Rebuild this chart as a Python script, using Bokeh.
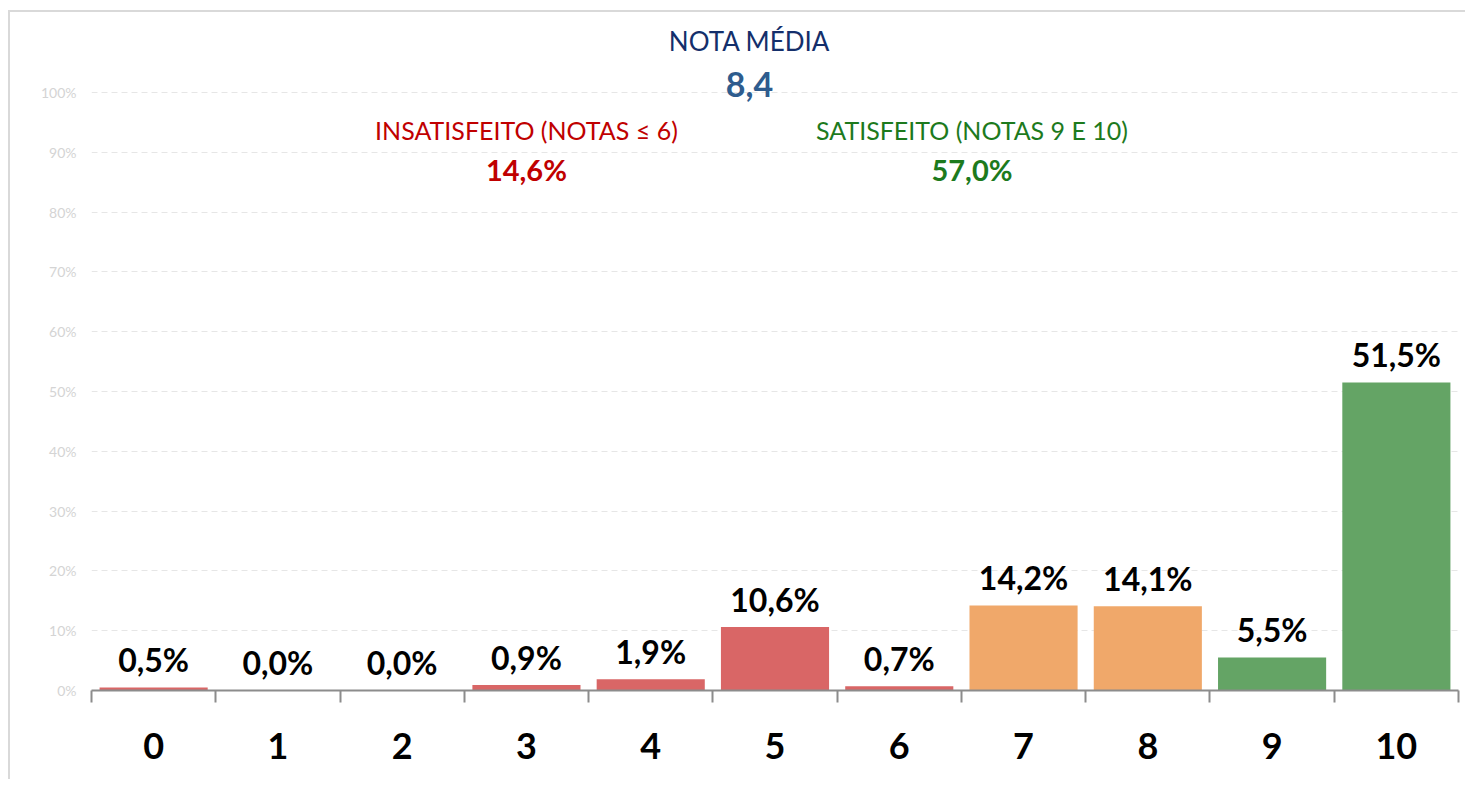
from bokeh.plotting import figure
from bokeh.models import (ColumnDataSource, Range1d, FixedTicker, NumeralTickFormatter, Label)
from bokeh.core.properties import value
from bokeh.embed import file_html
from bokeh.resources import INLINE

# ---- data ----
notas = [0, 1, 2, 3, 4, 5, 6, 7, 8, 9, 10]
percentuais = [0.005, 0.000, 0.000, 0.009, 0.019, 0.106, 0.007, 0.142, 0.141, 0.055, 0.515]
grupo = ["insat"] * 7 + ["neutro"] * 2 + ["sat"] * 2
nota_media = "8,4"
insatisfeito = "14,6%"
satisfeito = "57,0%"

cores_grupo = {"insat": "#D96666", "neutro": "#F0A86A", "sat": "#64A465"}

rotulos = [("%.1f%%" % (v * 100)).replace(".", ",") for v in percentuais]
src = ColumnDataSource(dict(x=notas, top=percentuais, lab=rotulos,
                            color=[cores_grupo[g] for g in grupo]))

FONT = "Lato"

p = figure(width=1457, height=769, output_backend="svg", toolbar_location=None,
           x_range=Range1d(-0.5, 10.5), y_range=Range1d(0, 1.1204),
           min_border_left=81, min_border_right=9, min_border_top=8, min_border_bottom=91,
           background_fill_color="white", border_fill_color="white")
p.outline_line_color = None
p.styles = {"border-left": "2px solid #d9d9d9", "border-top": "2px solid #d9d9d9",
            "margin-left": "8px", "margin-top": "10px"}

p.vbar(x="x", top="top", width=0.87, color="color", source=src, line_color=None)
p.text(x="x", y="top", text="lab", source=src, text_align="center",
       text_baseline="alphabetic", y_offset=-28, text_font=value(FONT),
       text_font_style="bold", text_font_size="32px", text_color="black")

# x axis
xa = p.xaxis[0]
xa.ticker = FixedTicker(ticks=notas, minor_ticks=[n - 0.5 for n in notas] + [10.5])
xa.major_tick_line_color = None
xa.major_tick_out = 0
xa.major_tick_in = 0
xa.minor_tick_out = 12
xa.minor_tick_in = 0
xa.minor_tick_line_color = "#8c8c8c"
xa.minor_tick_line_width = 2
xa.axis_line_color = "#8c8c8c"
xa.axis_line_width = 2
xa.major_label_text_font = FONT
xa.major_label_text_font_style = "bold"
xa.major_label_text_font_size = "36px"
xa.major_label_text_color = "black"
xa.major_label_standoff = 30

# y axis
ya = p.yaxis[0]
ya.ticker = FixedTicker(ticks=[i / 10 for i in range(11)])
ya.formatter = NumeralTickFormatter(format="0%")
ya.axis_line_color = None
ya.major_tick_line_color = None
ya.major_tick_out = 0
ya.major_tick_in = 0
ya.minor_tick_line_color = None
ya.major_label_text_font = FONT
ya.major_label_text_font_size = "14px"
ya.major_label_text_color = "#d4d4d4"
ya.major_label_standoff = 15

p.xgrid.grid_line_color = None
p.ygrid.grid_line_color = "#e6e6e6"
p.ygrid.grid_line_dash = "6 4"
p.ygrid.grid_line_width = 1

def lab(x, y, t, color, size, bold=False):
    p.add_layout(Label(x=x, y=y, text=t, text_align="center", text_baseline="middle",
                       text_font=FONT, text_font_size=size, text_color=color,
                       text_font_style="bold" if bold else "normal"))

lab(4.795, 1.0866, "NOTA MÉDIA", "#142F6B", "26px")
lab(4.795, 1.0134, nota_media, "#2E5C8E", "34px", True)
lab(3.0, 0.9378, "INSATISFEITO (NOTAS ≤ 6)", "#C00000", "25px")
lab(3.0, 0.8712, insatisfeito, "#C00000", "29px", True)
lab(6.585, 0.9378, "SATISFEITO (NOTAS 9 E 10)", "#1D7A1D", "25px")
lab(6.585, 0.8712, satisfeito, "#1D7A1D", "29px", True)

open("out.html", "w").write(file_html(p, INLINE))
